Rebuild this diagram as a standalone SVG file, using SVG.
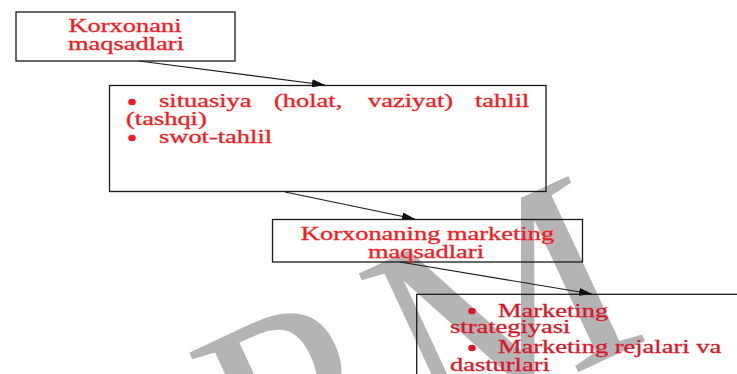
<svg xmlns="http://www.w3.org/2000/svg" width="737" height="374" viewBox="0 0 737 374">
<style>
.bx{fill:none;stroke:#1a1a1a;stroke-width:1.3}
.t{font-family:"Liberation Serif","Times New Roman",serif;font-size:18px;fill:#f01c24;stroke:#f01c24;stroke-width:0.3}
.t4{font-family:"Liberation Serif","Times New Roman",serif;font-size:18px;fill:#d8182a;stroke:#d8182a;stroke-width:0.3}
.c{text-anchor:middle}
.bul{fill:#f01c24}
.bul4{fill:#d8182a}
.wm{font-family:"Liberation Serif","Times New Roman",serif;font-size:278px;fill:#b4b4b4}
.ln{stroke:#1a1a1a;stroke-width:1.2;fill:none;marker-end:url(#ah)}
</style>
<defs>
<marker id="ah" viewBox="0 0 13 8" refX="13" refY="4" markerWidth="13" markerHeight="8" markerUnits="userSpaceOnUse" orient="auto">
<path d="M0,0 L13,4 L0,8 z" fill="#111"/>
</marker>
</defs>
<rect width="737" height="374" fill="#fff"/>
<g id="watermark" transform="translate(259,521) rotate(-25)">
<text class="wm" x="0" y="0">P</text>
<text class="wm" x="187" y="0">M</text>
</g>
<g id="connectors">
<line class="ln" x1="139" y1="61" x2="325" y2="85"/>
<line class="ln" x1="285" y1="192" x2="415" y2="219"/>
<line class="ln" x1="400" y1="262" x2="592" y2="294"/>
</g>
<g id="node1">
<rect class="bx" x="16" y="12" width="219" height="49"/>
<text class="t c" transform="translate(125,32) scale(1.47,1)">Korxonani</text>
<text class="t c" transform="translate(126,50) scale(1.47,1)">maqsadlari</text>
</g>
<g id="node2">
<rect class="bx" x="109.5" y="85.5" width="436.5" height="106"/>
<ellipse class="bul" cx="132" cy="102" rx="3.8" ry="3.2"/>
<text class="t" transform="translate(159,107) scale(1.47,1)">situasiya</text>
<text class="t" transform="translate(274,107) scale(1.47,1)">(holat,</text>
<text class="t" transform="translate(368,107) scale(1.47,1)">vaziyat)</text>
<text class="t" transform="translate(475,107) scale(1.47,1)">tahlil</text>
<text class="t" transform="translate(126,125) scale(1.47,1)">(tashqi)</text>
<ellipse class="bul" cx="132" cy="138" rx="3.8" ry="3.2"/>
<text class="t" transform="translate(159,143) scale(1.47,1)">swot-tahlil</text>
</g>
<g id="node3">
<rect class="bx" x="272.5" y="219.5" width="310" height="42.5"/>
<text class="t c" transform="translate(427.5,240) scale(1.47,1)">Korxonaning marketing</text>
<text class="t c" transform="translate(426,257.5) scale(1.47,1)">maqsadlari</text>
</g>
<g id="node4">
<rect class="bx" x="416.7" y="294.3" width="400" height="200"/>
<ellipse class="bul4" cx="472" cy="311" rx="3.8" ry="3.2"/>
<text class="t4" transform="translate(498,316.7) scale(1.47,1)">Marketing</text>
<text class="t4" transform="translate(450,333) scale(1.47,1)">strategiyasi</text>
<ellipse class="bul4" cx="472" cy="348" rx="3.8" ry="3.2"/>
<text class="t4" transform="translate(498,353) scale(1.47,1)">Marketing rejalari va</text>
<text class="t4" transform="translate(450,371) scale(1.47,1)">dasturlari</text>
</g>
</svg>
